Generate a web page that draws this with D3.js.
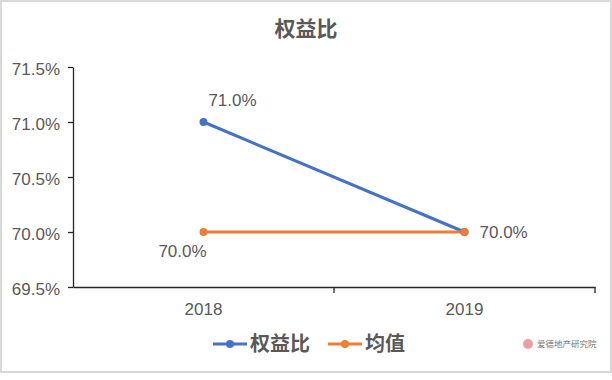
<!DOCTYPE html>
<html><head><meta charset="utf-8">
<script src="https://d3js.org/d3.v7.min.js"></script>
<style>body{margin:0;background:#fff}svg{display:block}</style>
</head><body>
<script>
const categories = ["2018", "2019"];
const seriesNames = ["权益比", "均值"];
const ratioValues = [0.710, 0.700];
const meanValues = [0.700, 0.700];
const yTicks = [0.695, 0.700, 0.705, 0.710, 0.715];
const title = "权益比";
const watermark = "爱德地产研究院";

const W = 612, H = 380;
const svg = d3.select("body").append("svg").attr("width", W).attr("height", H);
svg.append("rect").attr("x",1).attr("y",1).attr("width",W-2).attr("height",371).attr("fill","#fff").attr("stroke","#d9d9d9").attr("stroke-width",2);

const x = d3.scaleBand().domain(categories).range([73, 595]);
const y = d3.scaleLinear().domain([0.695, 0.715]).range([287, 67]);
const fmt = d3.format(".1%");
const textColor = "#595959";
const fontFam = "'Liberation Sans', Arial, sans-serif";
const cjkFam = "'Noto Sans CJK SC', sans-serif";
const lblSize = 17;

svg.append("text").attr("x", 306).attr("y", 36).attr("text-anchor","middle")
  .attr("font-family",cjkFam).attr("font-size",21).attr("font-weight","bold")
  .attr("fill", textColor).text(title);

const yAxis = svg.append("g").attr("transform","translate(73,0)")
  .call(d3.axisLeft(y).tickValues(yTicks).tickFormat(fmt).tickSize(5).tickSizeOuter(0));
yAxis.select(".domain").attr("stroke","#262626").attr("stroke-width",1.3);
yAxis.selectAll(".tick line").attr("stroke","#262626").attr("stroke-width",1.3);
yAxis.selectAll("text").attr("font-family",fontFam).attr("font-size",lblSize).attr("fill",textColor)
  .attr("x",-13).attr("dy","0.43em");

const xAxis = svg.append("g").attr("transform","translate(0,287)")
  .call(d3.axisBottom(x).tickSize(0).tickSizeOuter(0));
xAxis.select(".domain").attr("stroke","#262626").attr("stroke-width",1.3);
xAxis.selectAll("text").attr("font-family",fontFam).attr("font-size",lblSize).attr("fill",textColor)
  .attr("y",0).attr("dy",28);
const bounds = categories.map(c => x(c)).concat([x(categories[categories.length-1]) + x.bandwidth()]);
svg.append("g").selectAll("line").data(bounds.slice(1)).join("line")
  .attr("x1", d=>d).attr("x2", d=>d).attr("y1",287).attr("y2",293)
  .attr("stroke","#262626").attr("stroke-width",1.3);

const cx = c => x(c) + x.bandwidth()/2;
const line = d3.line().x((d,i)=>cx(categories[i])).y(d=>y(d));
const series = [
  {name: seriesNames[0], values: ratioValues, color: "#4472c4"},
  {name: seriesNames[1], values: meanValues, color: "#ed7d31"}
];
series.forEach(s => {
  svg.append("path").datum(s.values).attr("d", line).attr("fill","none")
    .attr("stroke", s.color).attr("stroke-width",3).attr("stroke-linecap","round");
});
series.forEach(s => {
  svg.append("g").selectAll("circle").data(s.values).join("circle")
    .attr("cx",(d,i)=>cx(categories[i])).attr("cy",d=>y(d)).attr("r",4)
    .attr("fill", s.color);
});

const labels = [
  {v: ratioValues[0], i: 0, dx: 29, dy: -16, anchor:"middle"},
  {v: meanValues[0], i: 0, dx: -21, dy: 25, anchor:"middle"},
  {v: ratioValues[1], i: 1, dx: 15, dy: 6, anchor:"start"}
];
svg.append("g").selectAll("text").data(labels).join("text")
  .attr("x", d => cx(categories[d.i]) + d.dx).attr("y", d => y(d.v) + d.dy)
  .attr("text-anchor", d=>d.anchor).attr("font-family",fontFam).attr("font-size",lblSize)
  .attr("fill", textColor).text(d => fmt(d.v));

const leg = svg.append("g");
const legItems = [
  {name: seriesNames[0], color: "#4472c4", x: 213},
  {name: seriesNames[1], color: "#ed7d31", x: 328}
];
legItems.forEach(l => {
  leg.append("line").attr("x1", l.x).attr("x2", l.x+34).attr("y1",344).attr("y2",344)
    .attr("stroke", l.color).attr("stroke-width",3);
  leg.append("circle").attr("cx", l.x+17).attr("cy",344).attr("r",4).attr("fill",l.color);
  leg.append("text").attr("x", l.x+37).attr("y",351).attr("font-family",cjkFam)
    .attr("font-size",20).attr("font-weight","bold").attr("fill",textColor).text(l.name);
});

svg.append("circle").attr("cx",528).attr("cy",344).attr("r",5).attr("fill","#e8a0a0");
svg.append("text").attr("x",537).attr("y",347).attr("font-family",cjkFam)
  .attr("font-size",8.5).attr("fill","#777").text(watermark);
</script>
</body></html>
